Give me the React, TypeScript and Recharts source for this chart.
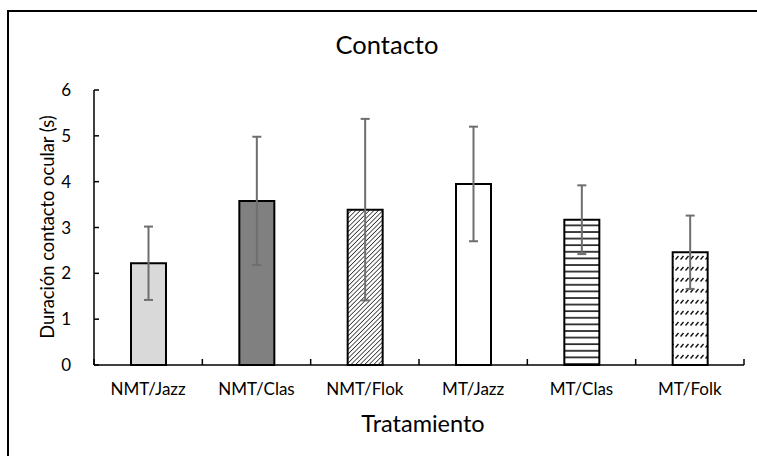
import React from "react";
import { BarChart, Bar, XAxis, YAxis, ErrorBar, Cell } from "recharts";

const categories = ["NMT/Jazz", "NMT/Clas", "NMT/Flok", "MT/Jazz", "MT/Clas", "MT/Folk"];
const means = [2.22, 3.58, 3.39, 3.95, 3.17, 2.46];
const errors = [0.8, 1.4, 1.98, 1.25, 0.75, 0.8];
const yTicks = [0, 1, 2, 3, 4, 5, 6];
const titleText = "Contacto";
const xTitle = "Tratamiento";
const yTitle = "Duración contacto ocular (s)";

const fills = ["#d9d9d9", "#808080", "url(#diag)", "#ffffff", "url(#horiz)", "url(#dashdiag)"];

const data = categories.map((c, i) => ({ name: c, mean: means[i], err: errors[i] }));

const FONT = "Lato, 'Open Sans', sans-serif";

const XTick = (props: any) => {
  const { x, y, payload, index, width } = props;
  const band = width ? width / categories.length : 108.33;
  const half = band / 2;
  return (
    <g>
      <line x1={x - half} y1={y} x2={x - half} y2={y - 6} stroke="#000" strokeWidth={1.5} />
      {index === categories.length - 1 && (
        <line x1={x + half} y1={y} x2={x + half} y2={y - 6} stroke="#000" strokeWidth={1.5} />
      )}
      <text x={x} y={y + 30} textAnchor="middle" fontFamily={FONT} fontSize={17} fill="#000">
        {payload.value}
      </text>
    </g>
  );
};

const YTick = (props: any) => {
  const { x, y, payload } = props;
  return (
    <g>
      <line x1={x} y1={y} x2={x + 5} y2={y} stroke="#000" strokeWidth={1.5} />
      <text x={x - 23} y={y + 6} textAnchor="end" fontFamily={FONT} fontSize={17} fill="#000">
        {payload.value}
      </text>
    </g>
  );
};

export default function App() {
  return (
    <div style={{ position: "absolute", left: 0, top: 0, width: 757, height: 456, background: "#fff", overflow: "hidden" }}>
      <svg width={0} height={0} style={{ position: "absolute" }}>
        <defs>
          <pattern id="diag" width={3.2} height={3.2} patternUnits="userSpaceOnUse" patternTransform="rotate(45)">
            <rect width={3.2} height={3.2} fill="#fff" />
            <line x1={0} y1={0} x2={0} y2={3.2} stroke="#222" strokeWidth={1.5} />
          </pattern>
          <pattern id="horiz" width={8} height={6.6} patternUnits="userSpaceOnUse">
            <rect width={8} height={6.6} fill="#fff" />
            <line x1={0} y1={1} x2={8} y2={1} stroke="#111" strokeWidth={1.6} />
          </pattern>
          <pattern id="dashdiag" width={5} height={11} patternUnits="userSpaceOnUse">
            <rect width={5} height={11} fill="#fff" />
            <line x1={0.5} y1={6.5} x2={3.5} y2={3} stroke="#111" strokeWidth={1.4} />
          </pattern>
        </defs>
      </svg>
      <div style={{ position: "absolute", left: 7, top: 10, width: 750, height: 2, background: "#000" }} />
      <div style={{ position: "absolute", left: 7, top: 10, width: 2, height: 446, background: "#000" }} />
      <div style={{ position: "absolute", left: 387, top: 44, transform: "translate(-50%, -50%)", fontFamily: FONT, fontSize: 25.5, whiteSpace: "nowrap", color: "#000" }}>
        {titleText}
      </div>
      <div style={{ position: "absolute", left: 423, top: 423, transform: "translate(-50%, -50%)", fontFamily: FONT, fontSize: 23.5, whiteSpace: "nowrap", color: "#000" }}>
        {xTitle}
      </div>
      <div style={{ position: "absolute", left: 47, top: 227, transform: "translate(-50%, -50%) rotate(-90deg)", fontFamily: FONT, fontSize: 18.3, whiteSpace: "nowrap", color: "#000" }}>
        {yTitle}
      </div>
      <div style={{ position: "absolute", left: 0, top: 0 }}>
        <BarChart width={757} height={456} data={data} margin={{ top: 90, right: 13, bottom: 61, left: 0 }} barCategoryGap={0}>
          <XAxis
            dataKey="name"
            height={30}
            tickSize={0}
            tickMargin={0}
            tickLine={false}
            axisLine={{ stroke: "#000", strokeWidth: 1.5 }}
            tick={<XTick />}
            interval={0}
          />
          <YAxis
            width={94}
            domain={[0, 6]}
            ticks={yTicks}
            tickSize={0}
            tickMargin={0}
            tickLine={false}
            axisLine={{ stroke: "#000", strokeWidth: 1.5 }}
            tick={<YTick />}
            interval={0}
          />
          <Bar dataKey="mean" barSize={35} stroke="#000" strokeWidth={2} isAnimationActive={false}>
            {data.map((d, i) => (
              <Cell key={d.name} fill={fills[i]} />
            ))}
            <ErrorBar dataKey="err" width={4.5} stroke="#6e6e6e" strokeWidth={2} direction="y" />
          </Bar>
        </BarChart>
      </div>
    </div>
  );
}
